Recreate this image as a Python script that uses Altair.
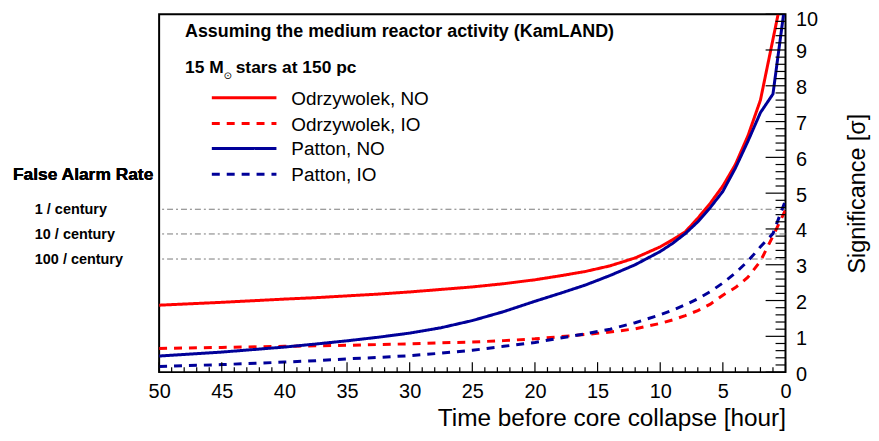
import altair as alt
import pandas as pd
import numpy as np

# ---- data ----
t_hours = [0, 1, 2, 3, 4, 5, 6, 7, 8, 9, 10, 12, 14, 16, 18, 20, 22.5, 25, 27.5, 30, 32.5, 35, 37.5,
           40, 45, 50]
odr_no = [11.0, 9.3, 7.6, 6.6, 5.8, 5.2, 4.72, 4.3, 3.92, 3.7, 3.5, 3.19, 2.97, 2.81, 2.69, 2.58,
          2.47, 2.38, 2.31, 2.24, 2.18, 2.13, 2.08, 2.04, 1.95, 1.87]
odr_io = [4.53, 3.8, 3.1, 2.65, 2.36, 2.15, 1.9, 1.72, 1.58, 1.46, 1.36, 1.21, 1.12, 1.05, 0.99, 0.93,
          0.88, 0.84, 0.82, 0.79, 0.77, 0.75, 0.735, 0.72, 0.69, 0.66]
pat_no = [10.4, 7.77, 7.25, 6.45, 5.7, 5.05, 4.6, 4.2, 3.87, 3.6, 3.37, 3.0, 2.7, 2.43, 2.2, 1.98,
          1.69, 1.44, 1.24, 1.09, 0.975, 0.875, 0.785, 0.70, 0.56, 0.45]
pat_io = [4.8, 3.87, 3.5, 3.1, 2.77, 2.49, 2.25, 2.05, 1.88, 1.73, 1.6, 1.38, 1.2, 1.07, 0.95, 0.83,
          0.72, 0.61, 0.53, 0.46, 0.41, 0.37, 0.32, 0.28, 0.21, 0.16]

series_names = ["Odrzywolek, NO", "Odrzywolek, IO", "Patton, NO", "Patton, IO"]
series_colors = ["#ff0000", "#ff0000", "#000099", "#000099"]
series_dash = [[1, 0], [8, 7], [1, 0], [8, 7]]

far_labels = ["1 / century", "10 / century", "100 / century"]
far_sigma = [4.55, 3.86, 3.16]

x_tick_labels = [0, 5, 10, 15, 20, 25, 30, 35, 40, 45, 50]
y_tick_labels = [0, 1, 2, 3, 4, 5, 6, 7, 8, 9, 10]

title_text = "Assuming the medium reactor activity (KamLAND)"
x_title = "Time before core collapse [hour]"
y_title = "Significance [σ]"

# ---- build tables ----
rows = []
for name, vals in zip(series_names, [odr_no, odr_io, pat_no, pat_io]):
    for t, v in zip(t_hours, vals):
        rows.append({"t": t, "sig": v, "series": name})
curves = pd.DataFrame(rows)

far_df = pd.DataFrame({"label": far_labels, "sig": far_sigma})

x_minor = [v for v in range(0, 51) if v % 5 != 0]
y_minor = [round(v, 1) for v in np.arange(0, 10.01, 0.2) if abs(v - round(v)) > 1e-6]

W, H = 630, 360
FONT = "Liberation Sans, Arial, Helvetica, sans-serif"

xscale = alt.Scale(domain=[0, 50], reverse=True, nice=False, zero=False)
yscale = alt.Scale(domain=[0, 10], nice=False, zero=False)

x_axis = alt.Axis(values=x_tick_labels, format="d", tickSize=0, domain=False, grid=False,
                  labelFlush=False, labelFontSize=20, labelFont=FONT, labelColor="black",
                  labelPadding=10, title=x_title, titleFont=FONT, titleFontSize=24.5,
                  titleFontWeight="normal", titleColor="black", titleAnchor="end",
                  titleAlign="right", titleBaseline="alphabetic", titleX=W, titleY=54)
y_axis = alt.Axis(orient="right", values=y_tick_labels, format="d", tickSize=0, domain=False,
                  grid=False, labelFlush=False,
                  labelOffset={"condition": {"test": "datum.value >= 10", "value": 5}, "value": 2},
                  labelFontSize=20, labelFont=FONT,
                  labelColor="black", labelPadding=10, title=y_title, titleFont=FONT,
                  titleFontSize=23.5, titleFontWeight="normal", titleColor="black",
                  titleAngle=270, titleAlign="center", titleBaseline="alphabetic",
                  titleX=79, titleY=H / 2)

lines = alt.Chart(curves).mark_line(clip=True, strokeWidth=3).encode(
    x=alt.X("t:Q", scale=xscale, axis=x_axis),
    y=alt.Y("sig:Q", scale=yscale, axis=y_axis),
    color=alt.Color("series:N", scale=alt.Scale(domain=series_names, range=series_colors), legend=None),
    strokeDash=alt.StrokeDash("series:N", scale=alt.Scale(domain=series_names, range=series_dash),
                              legend=None),
    detail="series:N",
)

far_rules = alt.Chart(far_df).mark_rule(color="#7a7a7a", strokeWidth=1, strokeDash=[6, 3, 2, 3]).encode(
    y=alt.Y("sig:Q", scale=yscale, axis=y_axis)
)

far_text = alt.Chart(far_df).mark_text(align="left", baseline="alphabetic", fontSize=14.5,
                                       fontWeight="bold", font=FONT, color="black", dy=5).encode(
    y=alt.Y("sig:Q", scale=yscale, axis=y_axis),
    x=alt.value(-125),
    text="label:N",
)

far_head = alt.Chart(far_df).mark_text(text="False Alarm Rate", align="left", baseline="alphabetic",
                                       fontSize=17.5, fontWeight="bold", font=FONT, color="black").encode(
    x=alt.value(-147), y=alt.value(167)
)

# ticks (inside the frame)
xmaj = alt.Chart(pd.DataFrame({"t": x_tick_labels})).mark_rule(color="black", strokeWidth=1.2).encode(
    x=alt.X("t:Q", scale=xscale, axis=x_axis), y=alt.value(H), y2=alt.value(H - 10))
xmin = alt.Chart(pd.DataFrame({"t": x_minor})).mark_rule(color="black", strokeWidth=1.2).encode(
    x=alt.X("t:Q", scale=xscale, axis=x_axis), y=alt.value(H), y2=alt.value(H - 5))
ymaj = alt.Chart(pd.DataFrame({"sig": y_tick_labels})).mark_rule(color="black", strokeWidth=1.2).encode(
    y=alt.Y("sig:Q", scale=yscale, axis=y_axis), x=alt.value(W), x2=alt.value(W - 20))
ymin = alt.Chart(pd.DataFrame({"sig": y_minor})).mark_rule(color="black", strokeWidth=1.2).encode(
    y=alt.Y("sig:Q", scale=yscale, axis=y_axis), x=alt.value(W), x2=alt.value(W - 10))

# header texts
base_txt = alt.Chart(far_df.head(1))
t1 = base_txt.mark_text(text=title_text, align="left", baseline="alphabetic", fontSize=18,
                        fontWeight="bold", font=FONT, color="black").encode(x=alt.value(26), y=alt.value(23))
t2a = base_txt.mark_text(text="15 M", align="left", baseline="alphabetic", fontSize=17.5,
                         fontWeight="bold", font=FONT, color="black").encode(x=alt.value(26), y=alt.value(59))
t2b = base_txt.mark_text(text="⊙", align="center", baseline="middle", fontSize=10,
                         font="DejaVu Sans", color="black").encode(x=alt.value(69), y=alt.value(62))
t2c = base_txt.mark_text(text="stars at 150 pc", align="left", baseline="alphabetic", fontSize=17.5,
                         fontWeight="bold", font=FONT, color="black").encode(x=alt.value(77), y=alt.value(59))

# legend (manual)
legend_layers = []
row_y = [84, 110, 135, 161]
for name, col, dash, yy in zip(series_names, series_colors, series_dash, row_y):
    legend_layers.append(base_txt.mark_rule(color=col, strokeWidth=3, strokeDash=dash).encode(
        x=alt.value(53), x2=alt.value(118), y=alt.value(yy)))
    legend_layers.append(base_txt.mark_text(text=name, align="left", baseline="middle", fontSize=19,
                                            font=FONT, color="black", dy=1).encode(
        x=alt.value(133), y=alt.value(yy)))

chart = alt.layer(
    far_rules, lines, xmaj, xmin, ymaj, ymin, far_text, far_head, t1, t2a, t2b, t2c, *legend_layers
).properties(
    width=W, height=H,
    padding={"left": 152, "top": 5, "right": 86, "bottom": 60},
    autosize=alt.AutoSizeParams(type="none"),
).configure_view(stroke="black", strokeWidth=2)

chart.save("out.html", embed_options={"renderer": "svg", "actions": False})
